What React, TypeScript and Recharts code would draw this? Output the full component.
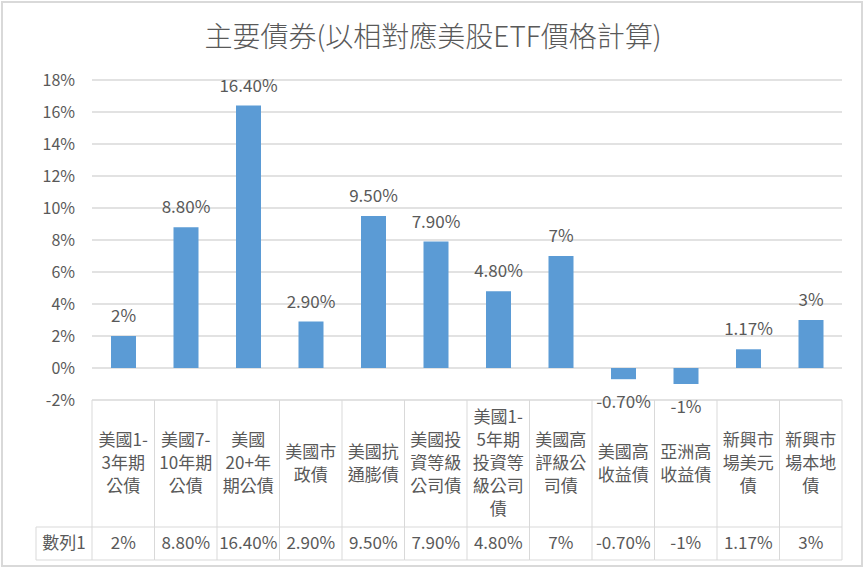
import { BarChart, Bar, XAxis, YAxis, CartesianGrid, LabelList } from 'recharts'

// categories (wrapped the way the data table shows them)
const categories = [
  '美國1-\n3年期\n公債',
  '美國7-\n10年期\n公債',
  '美國\n20+年\n期公債',
  '美國市\n政債',
  '美國抗\n通膨債',
  '美國投\n資等級\n公司債',
  '美國1-\n5年期\n投資等\n級公司\n債',
  '美國高\n評級公\n司債',
  '美國高\n收益債',
  '亞洲高\n收益債',
  '新興市\n場美元\n債',
  '新興市\n場本地\n債',
]

// series values, in percent
const seriesName = '數列1'
const values = [2, 8.8, 16.4, 2.9, 9.5, 7.9, 4.8, 7, -0.7, -1, 1.17, 3]

const yTicks = [-2, 0, 2, 4, 6, 8, 10, 12, 14, 16, 18]

const title = '主要債券(以相對應美股ETF價格計算)'

const data = categories.map((name, i) => ({ name, value: values[i] }))

const FONT = '"Noto Sans CJK TC", "Noto Sans", sans-serif'
const TEXT = '#595959'
const LINE = '#d9d9d9'

// Excel style: whole numbers without decimals, others with two
const fmt = (v: number) => (Number.isInteger(v) ? `${v}%` : `${v.toFixed(2)}%`)

const STEP = 750 / categories.length

// each x tick draws one column of the data table
function TableTick(props: any) {
  const { x, y, payload, index } = props
  const lines: string[] = String(payload.value).split('\n')
  const lh = 23
  const midY = y + 63
  const first = midY - ((lines.length - 1) * lh) / 2
  const rowTop = y + 127
  const rowBottom = y + 160
  const left = x - STEP / 2
  const right = x + STEP / 2
  return (
    <g>
      {index === 0 && (
        <g>
          <line x1={36} y1={rowTop} x2={left} y2={rowTop} stroke={LINE} />
          <line x1={36} y1={rowBottom} x2={left} y2={rowBottom} stroke={LINE} />
          <line x1={36} y1={rowTop} x2={36} y2={rowBottom} stroke={LINE} />
          <line x1={left} y1={y} x2={left} y2={rowBottom} stroke={LINE} />
          <text x={64} y={rowTop + 22} textAnchor="middle" fill={TEXT} fontSize={17} fontFamily={FONT}>
            {seriesName}
          </text>
        </g>
      )}
      <line x1={right} y1={y} x2={right} y2={rowBottom} stroke={LINE} />
      <line x1={left} y1={rowTop} x2={right} y2={rowTop} stroke={LINE} />
      <line x1={left} y1={rowBottom} x2={right} y2={rowBottom} stroke={LINE} />
      {lines.map((t, i) => (
        <text
          key={i}
          x={x}
          y={first + i * lh + 6}
          textAnchor="middle"
          fill={TEXT}
          fontSize={17}
          fontFamily={FONT}
        >
          {t}
        </text>
      ))}
      <text x={x} y={rowTop + 22} textAnchor="middle" fill={TEXT} fontSize={17} fontFamily={FONT}>
        {fmt(values[index])}
      </text>
    </g>
  )
}

function BarLabel(props: any) {
  const { x, y, width, height, value } = props
  const top = Math.min(y, y + height)
  const bottom = Math.max(y, y + height)
  const ty = value < 0 ? bottom + 29 : top - 14
  return (
    <text x={x + width / 2} y={ty} textAnchor="middle" fill={TEXT} fontSize={17} fontFamily={FONT}>
      {fmt(value)}
    </text>
  )
}

export default function App() {
  return (
    <div
      style={{
        position: 'absolute',
        left: 0,
        top: 0,
        width: 866,
        height: 571,
        background: '#fff',
      }}
    >
      <div
        style={{
          position: 'absolute',
          left: 1,
          top: 1,
          width: 862,
          height: 566,
          border: '2px solid #d9d9d9',
          boxSizing: 'border-box',
          pointerEvents: 'none',
        }}
      />
      <BarChart
        width={866}
        height={571}
        data={data}
        margin={{ top: 80, right: 24, bottom: 11, left: 0 }}
      >
        <text
          x={433}
          y={47}
          textAnchor="middle"
          fill={TEXT}
          fontSize={28}
          fontWeight={300}
          fontFamily={FONT}
        >
          {title}
        </text>
        <CartesianGrid vertical={false} stroke={LINE} strokeWidth={1.5} />
        <XAxis
          dataKey="name"
          height={160}
          axisLine={false}
          tickLine={false}
          tickSize={0}
          tickMargin={0}
          interval={0}
          tick={<TableTick />}
        />
        <YAxis
          width={92}
          domain={[-2, 18]}
          ticks={yTicks}
          interval={0}
          axisLine={false}
          tickLine={false}
          tickSize={0}
          tickMargin={17}
          tickFormatter={(v) => `${v}%`}
          tick={{ fill: TEXT, fontSize: 16, fontFamily: FONT }}
        />
        <Bar dataKey="value" fill="#5b9bd5" barSize={25} isAnimationActive={false}>
          <LabelList dataKey="value" content={<BarLabel />} />
        </Bar>
      </BarChart>
    </div>
  )
}
